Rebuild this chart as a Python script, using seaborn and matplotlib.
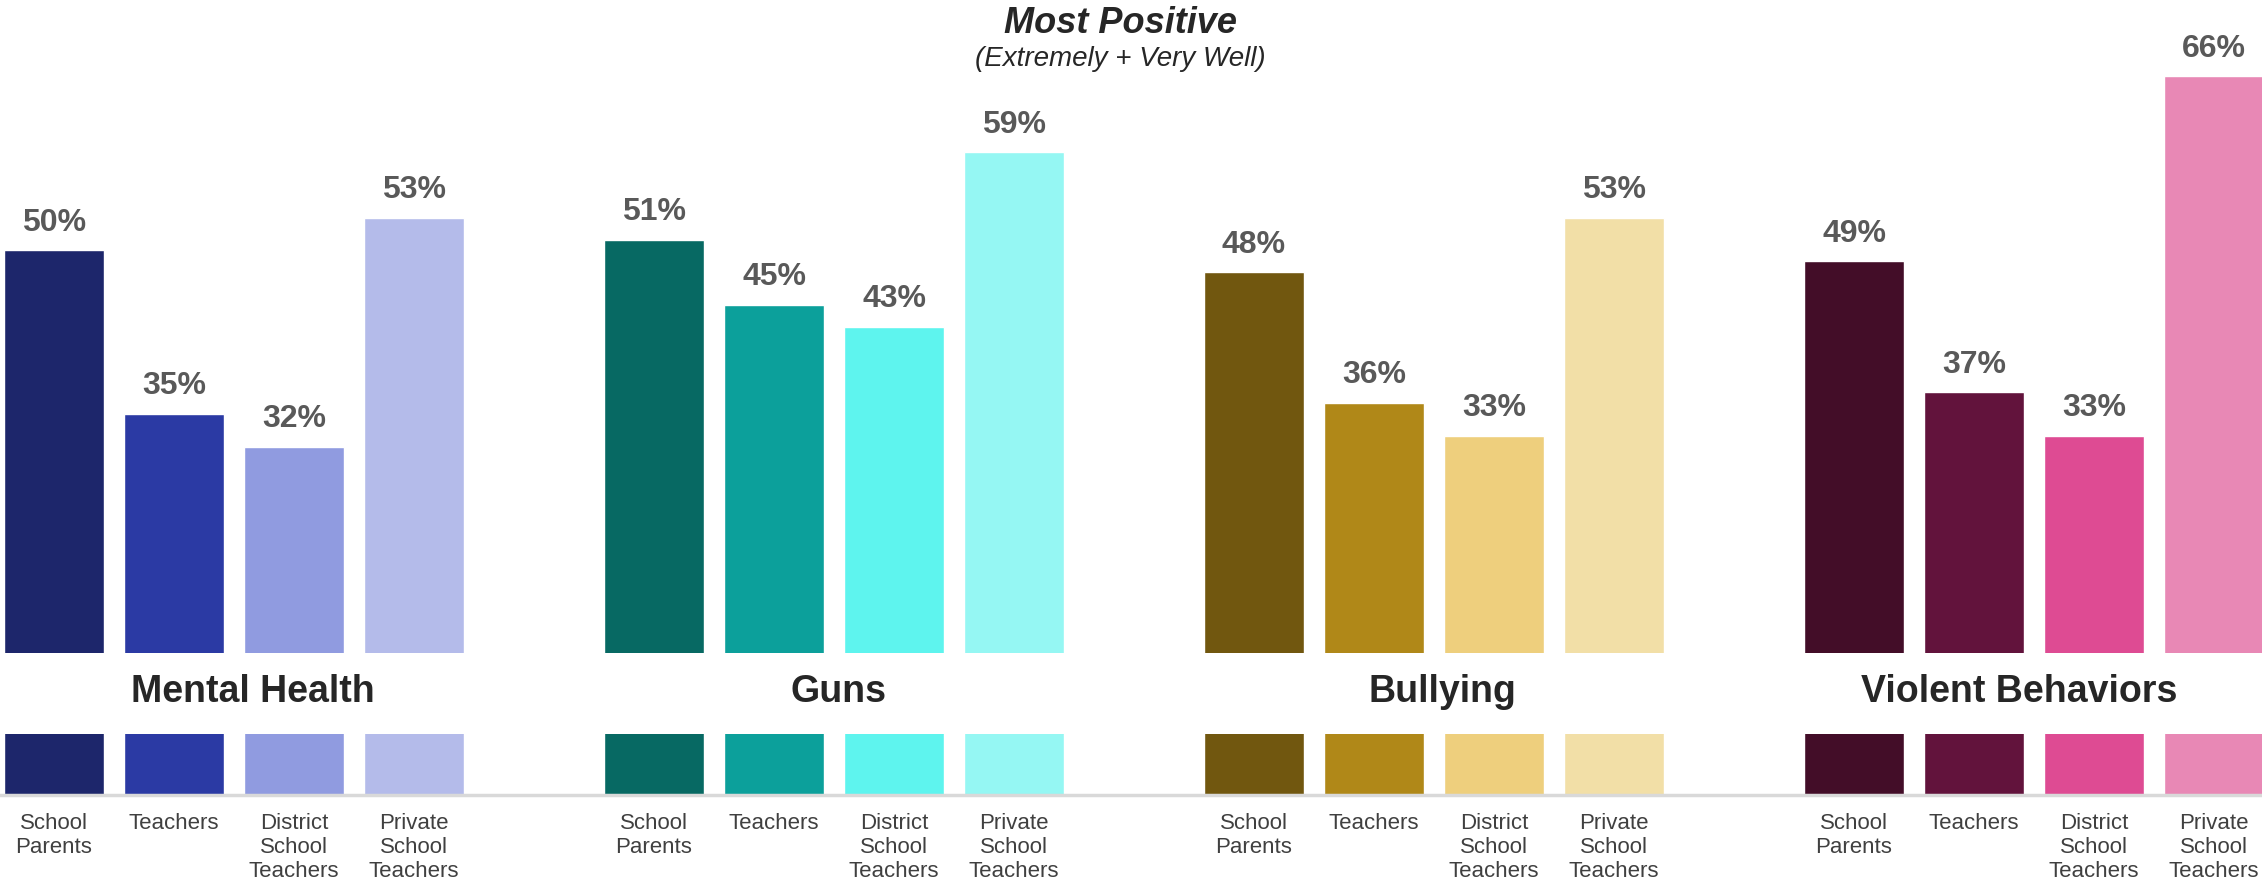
import matplotlib
matplotlib.use("Agg")
import matplotlib.pyplot as plt
import seaborn as sns
import pandas as pd

# ---- data ----
topics = ["Mental Health", "Guns", "Bullying", "Violent Behaviors"]
respondents = ["School\nParents", "Teachers", "District\nSchool\nTeachers", "Private\nSchool\nTeachers"]
mental_health = [50, 35, 32, 53]
guns = [51, 45, 43, 59]
bullying = [48, 36, 33, 53]
violent_behaviors = [49, 37, 33, 66]
palette_mental = ["#1d266b", "#2b3aa4", "#909be0", "#b4bbea"]
palette_guns = ["#076963", "#0ca09b", "#5ef4ee", "#95f7f3"]
palette_bullying = ["#71570f", "#b08818", "#eecf7d", "#f2dfa7"]
palette_violent = ["#430d28", "#62133c", "#de4b93", "#e888b5"]
title = "Most Positive"
subtitle = "(Extremely + Very Well)"

series = [mental_health, guns, bullying, violent_behaviors]
palettes = [palette_mental, palette_guns, palette_bullying, palette_violent]

rows = []
for g, (topic, vals, pal) in enumerate(zip(topics, series, palettes)):
    for i, (resp, v, c) in enumerate(zip(respondents, vals, pal)):
        rows.append({"pos": g * 5 + i, "value": v, "key": f"{topic}|{i}",
                     "color": c, "label": resp})
df = pd.DataFrame(rows)
color_map = dict(zip(df["key"], df["color"]))

sns.set_theme(style="white")
plt.rcParams["font.family"] = ["Liberation Sans", "DejaVu Sans"]

fig = plt.figure(figsize=(22.62, 8.82), dpi=100)
base = 87 / 882
ax = fig.add_axes([0, base, 1, 1 - base])

sns.barplot(data=df, x="pos", y="value", hue="key", palette=color_map,
            native_scale=True, dodge=False, width=0.833, legend=False,
            saturation=1, ax=ax)

ax.set_xlim(-0.45, 18.4)
ax.set_ylim(0, 73)

for cont in ax.containers:
    ax.bar_label(cont, fmt="{:.0f}%", padding=9, fontsize=23, fontweight="bold",
                 color="#595959")

# white band hiding middle of bars, with topic names
ax.axhspan(5.6, 13.05, color="white", zorder=5, lw=0)
label_x = [1.66, 6.54, 11.57, 16.38]
for tx, topic in zip(label_x, topics):
    ax.text(tx, 9.5, topic, ha="center", va="center", fontsize=27,
            fontweight="bold", color="#262626", zorder=6)

ax.set_xticks(df["pos"].tolist())
ax.set_xticklabels(df["label"].tolist(), fontsize=16, color="#404040",
                   linespacing=1.2)
ax.tick_params(axis="x", length=0, pad=13)
ax.set_yticks([])
ax.set_xlabel("")
ax.set_ylabel("")
for s in ["top", "left", "right"]:
    ax.spines[s].set_visible(False)
ax.spines["bottom"].set_color("#d9d9d9")
ax.spines["bottom"].set_linewidth(2.5)
ax.spines["bottom"].set_zorder(7)

fig.text(1120 / 2262, 1 - 33 / 882, title, ha="center", va="baseline",
         fontsize=26, fontweight="bold", fontstyle="italic", color="#262626")
fig.text(1120 / 2262, 1 - 66 / 882, subtitle, ha="center", va="baseline",
         fontsize=20, fontstyle="italic", color="#262626")

fig.savefig("out.png", dpi=100)
